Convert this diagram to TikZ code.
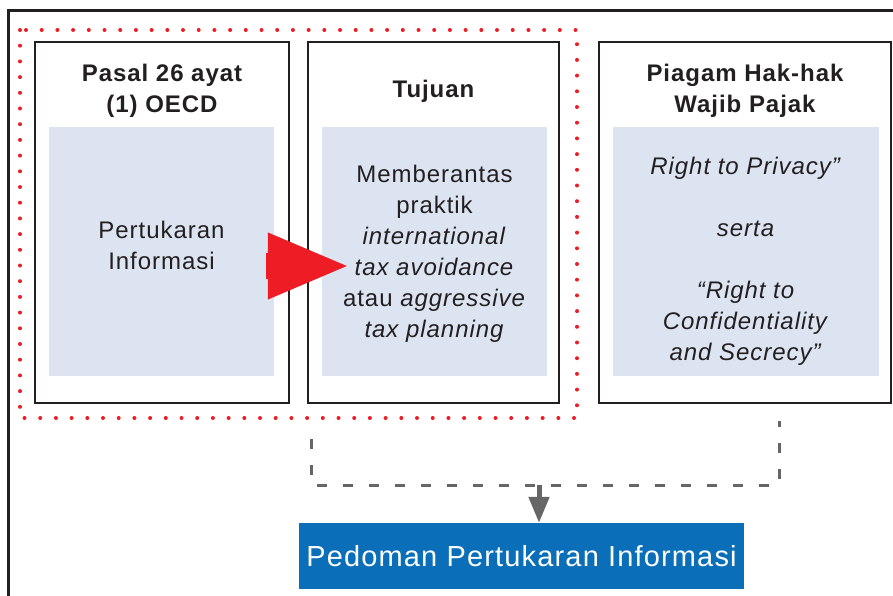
\documentclass[tikz,border=0pt]{standalone}
\usepackage{fontspec}
\setmainfont{Liberation Sans}[LetterSpace=4]
\usetikzlibrary{arrows.meta}

\definecolor{merah}{HTML}{EE1C25}
\definecolor{isi}{HTML}{DDE4F1}
\definecolor{biru}{HTML}{0A6FB8}
\definecolor{garis}{HTML}{231F20}
\definecolor{abu}{HTML}{666666}

\begin{document}
\begin{tikzpicture}[x=1pt,y=-1pt]

      \useasboundingbox (0,0) rectangle (893,596);

      % bingkai luar
      \draw[garis,line width=3pt] (905,11) -| (8,605);

      \begin{scope}[every node/.style={draw=garis,line width=2.5pt,inner sep=0pt,minimum height=361pt}]
        \node[minimum width=254pt] (pasal)  at (162,222.5) {};
        \node[minimum width=251pt] (tujuan) at (433.5,222.5) {};
        \node[minimum width=292pt] (piagam) at (745,222.5) {};
      \end{scope}

      \begin{scope}[every node/.style={align=center,text=garis,font=\bfseries\fontsize{24}{31}\selectfont}]
        \node (judul1) at (162,91) {Pasal 26 ayat\\(1) OECD};
        \node (judul2) at (433.5,91.5) {Tujuan};
        \node (judul3) at (745,91) {Piagam Hak-hak\\Wajib Pajak};
      \end{scope}

      \begin{scope}[every node/.style={fill=isi,inner sep=0pt,minimum height=249pt}]
        \node[minimum width=225pt] (isi1) at (161.5,251.5) {};
        \node[minimum width=225pt] (isi2) at (434.5,251.5) {};
        \node[minimum width=266pt] (isi3) at (746,251.5) {};
      \end{scope}

      \begin{scope}[every node/.style={align=center,text=garis,font=\fontsize{24}{31}\selectfont}]
        \node (teks1) at (161.5,245) {Pertukaran\\Informasi};
        \node (teks2) at (434.5,253.5) {Memberantas\\praktik\\\textit{international}\\\textit{tax avoidance}\\atau \textit{aggressive}\\\textit{tax planning}};
        \node (teks3) at (746,261.5) {\textit{Right to Privacy”}\\[31pt]\textit{serta}\\[31pt]\textit{“Right to}\\\textit{Confidentiality}\\\textit{and Secrecy”}};
      \end{scope}

      % kotak titik merah
      \draw[merah,line width=4pt,line cap=round,dash pattern=on 0pt off 15.7pt] (20,30) rectangle (577,418);

      \path[merah,line width=26pt,-{Triangle[length=83pt,width=60pt]}]
        ([xshift=-8pt,yshift=-14.5pt]isi1.east) edge ([xshift=29pt,yshift=-14.5pt]isi2.west);

      \node[fill=biru,text=white,inner sep=0pt,minimum width=445pt,minimum height=66pt,font=\fontsize{29}{35}\selectfont] (pedoman) at (521.5,556) {Pedoman Pertukaran Informasi};

      \coordinate (kiri)   at (311,439);
      \coordinate (kanan)  at (779,421);
      \coordinate (tengah) at (539,485);

      \draw[abu,line width=3pt,dash pattern=on 10pt off 16pt] (kiri) |- (tengah) -| (kanan);
      \path[abu,line width=5pt,-{Triangle[length=26pt,width=20pt]}] (tengah) edge (tengah |- pedoman.north);

    \end{tikzpicture}
\end{document}
